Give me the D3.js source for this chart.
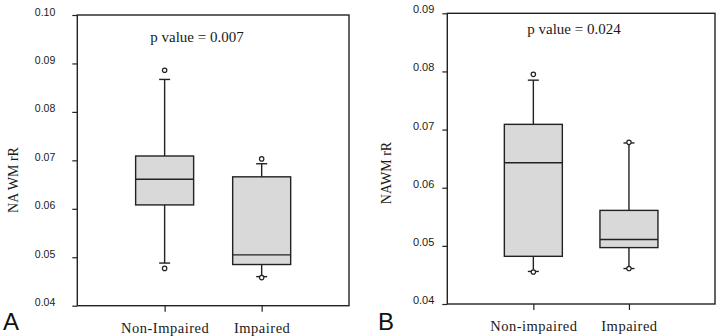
<!DOCTYPE html>
<html>
<head>
<meta charset="utf-8">
<script src="https://cdn.jsdelivr.net/npm/d3@7"></script>
<style>
  body { margin: 0; background: #fff; }
  svg { display: block; }
</style>
</head>
<body>
<svg id="chart" width="720" height="336"></svg>
<script>
// panel A
var groupsA = ["Non-Impaired", "Impaired"];
var ticksA = [0.04, 0.05, 0.06, 0.07, 0.08, 0.09, 0.10];
var q1A = [0.0608, 0.0485];
var medA = [0.0661, 0.0505];
var q3A = [0.0709, 0.0666];
var lowA = [0.0488, 0.0460];
var highA = [0.0867, 0.0693];
var outLowA = [0.0477, 0.0458];
var outHighA = [0.0886, 0.0703];

// panel B
var groupsB = ["Non-impaired", "Impaired"];
var ticksB = [0.04, 0.05, 0.06, 0.07, 0.08, 0.09];
var q1B = [0.0482, 0.0497];
var medB = [0.0643, 0.0511];
var q3B = [0.0709, 0.0561];
var lowB = [0.0456, 0.0461];
var highB = [0.0785, 0.0677];
var outLowB = [0.0455, 0.0461];
var outHighB = [0.0795, 0.0678];

var svg = d3.select("#chart");

function drawPanel(p) {
    var g = svg.append("g");

    var x = d3.scalePoint()
        .domain(p.groups)
        .range([p.left, p.right])
        .padding(0.9);

    var y = d3.scaleLinear()
        .domain([p.ticks[0], p.ticks[p.ticks.length - 1]])
        .range([p.bottom, p.top]);

    // frame
    g.append("rect")
        .attr("x", p.left)
        .attr("y", p.top)
        .attr("width", p.right - p.left)
        .attr("height", p.bottom - p.top)
        .attr("fill", "none")
        .attr("stroke", "#222")
        .attr("stroke-width", 1.4);

    // y axis
    var yAxis = g.append("g")
        .attr("transform", "translate(" + p.left + ",0)")
        .call(d3.axisLeft(y).tickValues(p.ticks).tickSize(5).tickPadding(p.tickPad)
            .tickFormat(d3.format(".2f")));
    yAxis.select(".domain").remove();
    yAxis.selectAll(".tick line").attr("stroke", "#222").attr("stroke-width", 1.2);
    yAxis.selectAll(".tick text")
        .attr("dy", p.labelDy)
        .attr("fill", "#1a1a1a")
        .style("font-family", "'Liberation Sans', Arial, sans-serif")
        .style("font-size", p.tickFont + "px");

    // x axis
    var xAxis = g.append("g")
        .attr("transform", "translate(0," + p.bottom + ")")
        .call(d3.axisBottom(x).tickSize(6).tickPadding(11));
    xAxis.select(".domain").remove();
    xAxis.selectAll(".tick line").attr("stroke", "#222").attr("stroke-width", 1.2);
    xAxis.selectAll(".tick text")
        .attr("fill", "#1a1a1a")
        .style("font-family", "'Liberation Serif', 'Times New Roman', serif")
        .style("font-size", "14.5px")
        .style("letter-spacing", "0.5px");

    var idx = d3.range(p.groups.length);
    var bw = 58, cap = 11;

    // whiskers
    g.selectAll(".whisker")
        .data(idx)
        .enter()
        .append("line")
        .attr("x1", function (i) { return x(p.groups[i]); })
        .attr("x2", function (i) { return x(p.groups[i]); })
        .attr("y1", function (i) { return y(p.low[i]); })
        .attr("y2", function (i) { return y(p.high[i]); })
        .attr("stroke", "#222")
        .attr("stroke-width", 1.4);

    [p.low, p.high].forEach(function (arr) {
        g.selectAll(null)
            .data(idx)
            .enter()
            .append("line")
            .attr("x1", function (i) { return x(p.groups[i]) - cap / 2; })
            .attr("x2", function (i) { return x(p.groups[i]) + cap / 2; })
            .attr("y1", function (i) { return y(arr[i]); })
            .attr("y2", function (i) { return y(arr[i]); })
            .attr("stroke", "#222")
            .attr("stroke-width", 1.4);
    });

    // boxes
    g.selectAll(".box")
        .data(idx)
        .enter()
        .append("rect")
        .attr("x", function (i) { return x(p.groups[i]) - bw / 2; })
        .attr("y", function (i) { return y(p.q3[i]); })
        .attr("width", bw)
        .attr("height", function (i) { return y(p.q1[i]) - y(p.q3[i]); })
        .attr("fill", "#d9d9d9")
        .attr("stroke", "#222")
        .attr("stroke-width", 1.4);

    // medians
    g.selectAll(".median")
        .data(idx)
        .enter()
        .append("line")
        .attr("x1", function (i) { return x(p.groups[i]) - bw / 2; })
        .attr("x2", function (i) { return x(p.groups[i]) + bw / 2; })
        .attr("y1", function (i) { return y(p.med[i]); })
        .attr("y2", function (i) { return y(p.med[i]); })
        .attr("stroke", "#222")
        .attr("stroke-width", 1.4);

    // outliers
    [p.outLow, p.outHigh].forEach(function (arr) {
        g.selectAll(null)
            .data(idx)
            .enter()
            .append("circle")
            .attr("cx", function (i) { return x(p.groups[i]); })
            .attr("cy", function (i) { return y(arr[i]); })
            .attr("r", 2.2)
            .attr("fill", "#fff")
            .attr("stroke", "#222")
            .attr("stroke-width", 1.2);
    });

    // p value
    g.append("text")
        .attr("x", p.pX)
        .attr("y", p.pY)
        .attr("text-anchor", "middle")
        .attr("fill", "#1a1a1a")
        .style("font-family", "'Liberation Serif', 'Times New Roman', serif")
        .style("font-size", "15px")
        .text(p.pText);

    // y label
    g.append("text")
        .attr("transform", "translate(" + p.yLabX + "," + p.yLabY + ") rotate(-90)")
        .attr("text-anchor", "middle")
        .attr("dy", "0.35em")
        .attr("fill", "#1a1a1a")
        .style("font-family", "'Liberation Serif', 'Times New Roman', serif")
        .style("font-size", "14px")
        .text(p.yLabel);

    // panel letter
    g.append("text")
        .attr("x", p.letterX)
        .attr("y", 330)
        .attr("fill", "#111")
        .style("font-family", "'Liberation Sans', Arial, sans-serif")
        .style("font-size", "24px")
        .text(p.letter);
}

drawPanel({
    groups: groupsA, ticks: ticksA,
    q1: q1A, med: medA, q3: q3A, low: lowA, high: highA, outLow: outLowA, outHigh: outHighA,
    left: 77.3, right: 349, top: 15, bottom: 305.7,
    tickPad: 17, tickFont: 10.5, labelDy: "0.0em",
    pText: "p value = 0.007", pX: 197, pY: 42,
    yLabel: "NA WM rR", yLabX: 12.7, yLabY: 180,
    letter: "A", letterX: 3
});

drawPanel({
    groups: groupsB, ticks: ticksB,
    q1: q1B, med: medB, q3: q3B, low: lowB, high: highB, outLow: outLowB, outHigh: outHighB,
    left: 447.3, right: 715, top: 13.3, bottom: 304,
    tickPad: 8, tickFont: 11, labelDy: "-0.05em",
    pText: "p value = 0.024", pX: 574, pY: 34,
    yLabel: "NAWM rR", yLabX: 386, yLabY: 173,
    letter: "B", letterX: 378
});
</script>
</body>
</html>
